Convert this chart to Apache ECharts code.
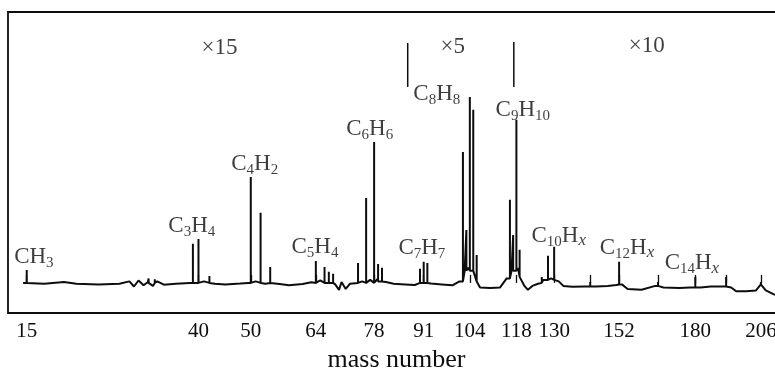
<!DOCTYPE html>
<html>
<head>
<meta charset="utf-8">
<script src="https://cdn.jsdelivr.net/npm/echarts@6/dist/echarts.min.js"></script>
<style>
  html, body { margin: 0; padding: 0; background: #fff; overflow: hidden; }
  /* the plot frame runs past the right edge of the window */
  #chart { width: 787px; height: 372px; }
</style>
</head>
<body>
<div id="chart"></div>
<script>
// Mass spectrum: the mass axis is drawn on a square-root scale.
const tickMasses = [15, 40, 50, 64, 78, 91, 104, 118, 130, 142, 152, 166, 180, 192, 206];
const labeledMasses = [15, 40, 50, 64, 78, 91, 104, 118, 130, 152, 180, 206];
const massRange = [13, 216];

// Background trace of the detector signal: [mass, intensity]
const baseline = [
  [14.6, 0], [17, -0.3], [19.4, 0.3], [21, -0.3], [24, -0.5], [27, -0.3],
  [28.5, 0.5], [29.2, -1.2], [29.9, 0.8], [30.7, -0.8], [31.4, 0.3], [32.2, -1],
  [32.9, 0.5], [34, -0.6], [36, -0.3], [38.5, 0], [41, 0.5], [43, -0.3],
  [45, -0.5], [47.9, -0.2], [49.5, 0], [51, 0.5], [53, -0.3], [56, -0.4],
  [58, -0.8], [61, -0.4], [63, 0.2], [65, 0.8], [67, 0], [68.5, -0.5],
  [69.4, -2.3], [70, 0.3], [71, -2], [72, -0.3], [74, 0], [75, 0.5], [77, 1],
  [79, 1.5], [81, 0.3], [83, -0.3], [86, -0.5], [88.6, -0.7], [90, 0],
  [93, -0.2], [96, -0.5], [99, -0.8], [101, 0.5], [102.5, 4], [103.5, 5],
  [105.5, 4], [106.2, 0.5], [107, -1.5], [110, -1.7], [113, -1.5], [115, 1.5],
  [116.5, 4], [118.5, 5], [119.5, 2], [120.5, -1], [121.6, -2.3], [123, -1],
  [124.8, -0.3], [126.5, 1], [129, 1.5], [131.5, 0.5], [133, -1], [136, -1.3],
  [140, -1.2], [144, -1.2], [148, -1], [151, -0.7], [153, -0.5], [155, -2],
  [160, -2.3], [165, -1], [168, -1.5], [174, -1.7], [178, -1.5], [182, -1.5],
  [186, -1.2], [190, -1.2], [194, -1.5], [196, -2.8], [200, -2.8], [204, -2.5],
  [206.5, -0.5], [208, -2.5], [211.8, -4]
];

// Ion peaks: [mass, foot level, peak height]
const peaks = [
  [15, 0, 4.3], [31.5, 0, 1.5], [32.5, 0, 1.2], [39, 0, 13.0], [40, 0, 14.6],
  [42, 0, 2.3], [50, 0, 35.2], [52, 0, 23.3], [54, 0, 5.3], [64, 0, 7.3],
  [66, 0, 5.3], [67, 0, 3.7], [68, 0, 3.0], [74, 0, 6.6], [76, 0, 28.2],
  [78, 0, 46.8], [79, 0.5, 6.3], [80, 0.5, 5.0], [90, 0, 4.7], [91, 0, 7.0],
  [92, 0, 6.6], [102, 0.5, 43.5], [103, 4, 17.6], [104, 4, 61.8], [105, 4, 57.5],
  [106, 0.5, 9.3], [116, 1.5, 27.6], [117, 4, 15.9], [118, 4, 54.2], [119, 2, 11.0],
  [126, 0, 2.0], [128, 1, 9.0], [130, 1, 12.0], [142, -1.2, 0.3], [152, -0.5, 7.0],
  [166, -1, 0.3], [180, -1.5, 2.0], [192, -1.2, 2.0], [206, -0.5, 0.3]
];

// Range separators for the gain factors: [mass, lower, upper]
const dividers = [[86.7, 65.1, 79.7], [117.2, 65.1, 80.0]];

// Fragment formulas: [text, mass, intensity]
const formulaLabels = [
  ['CH3', 15.8, 8.6], ['C3H4', 38.8, 18.9], ['C4H2', 50.8, 39.5],
  ['C5H4', 63.8, 12.0], ['C6H6', 76.9, 51.2], ['C7H7', 90.5, 11.6],
  ['C8H8', 94.6, 62.8], ['C9H10', 120.0, 57.5], ['C10Hx', 131.5, 15.6],
  ['C12Hx', 154.8, 11.6], ['C14Hx', 178.7, 6.6]
];

// Gain factors for each mass range: [text, mass, intensity]
const gainLabels = [['×15', 43.9, 78.1], ['×5', 99.1, 78.4], ['×10', 161.9, 78.7]];

const SERIF = "'Liberation Serif', 'DejaVu Serif', serif";
const INK = '#0d0d0d';
const sq = Math.sqrt;

function buildTrace() {
  const groups = baseline.map(p => ({ m: p[0], pts: [[p[0], p[1]]] }));
  peaks.forEach(p => groups.push({ m: p[0], pts: [[p[0], p[1]], [p[0], p[2]], [p[0], p[1]]] }));
  groups.sort((a, b) => a.m - b.m);
  const out = [];
  groups.forEach(g => g.pts.forEach(pt => out.push([sq(pt[0]), pt[1]])));
  return out;
}

function toRich(text) {
  return text.replace(/([A-Z]+)|(\d+)|(x)/g, (s, caps, num, ital) => {
    if (caps) return '{b|' + caps + '}';
    if (num) return '{s|' + num + '}';
    return '{i|x}';
  });
}

const chart = echarts.init(document.getElementById('chart'), null, { renderer: 'canvas' });

chart.setOption({
  animation: false,
  backgroundColor: '#fff',
  grid: {
    left: 8, top: 12, right: 2, bottom: 59,
    outerBoundsMode: 'none',
    show: true, borderColor: INK, borderWidth: 1.8, backgroundColor: 'transparent'
  },
  xAxis: {
    type: 'value',
    min: sq(massRange[0]),
    max: sq(massRange[1]),
    axisLine: { show: false },
    splitLine: { show: false },
    axisTick: {
      show: true, inside: true, length: 8,
      customValues: tickMasses.map(sq),
      lineStyle: { color: INK, width: 1.3 }
    },
    axisLabel: {
      customValues: labeledMasses.map(sq),
      formatter: v => String(Math.round(v * v)),
      fontFamily: SERIF, fontSize: 21, color: INK, margin: 8
    },
    name: 'mass number',
    nameLocation: 'middle',
    nameGap: 21,
    nameTextStyle: { fontFamily: SERIF, fontSize: 26, color: INK }
  },
  yAxis: { type: 'value', min: -10, max: 90, show: false },
  series: [
    {
      type: 'line',
      data: buildTrace(),
      showSymbol: false,
      silent: true,
      lineStyle: { color: INK, width: 2 },
      z: 3
    },
    {
      type: 'custom',
      data: dividers.map(d => [sq(d[0]), d[1], d[2]]),
      encode: { x: 0, y: [1, 2] },
      silent: true,
      renderItem: (params, api) => {
        const x = api.value(0);
        const p1 = api.coord([x, api.value(1)]);
        const p2 = api.coord([x, api.value(2)]);
        return {
          type: 'line',
          shape: { x1: p1[0], y1: p1[1], x2: p2[0], y2: p2[1] },
          style: { stroke: INK, lineWidth: 1.5 }
        };
      }
    },
    {
      type: 'scatter',
      symbolSize: 1,
      itemStyle: { color: 'transparent' },
      silent: true,
      data: formulaLabels.map(l => ({ name: l[0], value: [sq(l[1]), l[2]] })),
      label: {
        show: true, position: 'inside',
        formatter: p => toRich(p.name),
        rich: {
          b: { fontFamily: SERIF, fontSize: 23, color: INK, lineHeight: 27 },
          s: { fontFamily: SERIF, fontSize: 15, color: INK, lineHeight: 14, verticalAlign: 'bottom' },
          i: { fontFamily: SERIF, fontSize: 17, fontStyle: 'italic', color: INK, lineHeight: 14, verticalAlign: 'bottom' }
        }
      }
    },
    {
      type: 'scatter',
      symbolSize: 1,
      itemStyle: { color: 'transparent' },
      silent: true,
      data: gainLabels.map(l => ({ name: l[0], value: [sq(l[1]), l[2]] })),
      label: {
        show: true, position: 'inside',
        formatter: p => p.name,
        fontFamily: SERIF, fontSize: 23, color: INK
      }
    }
  ]
});
</script>
</body>
</html>
